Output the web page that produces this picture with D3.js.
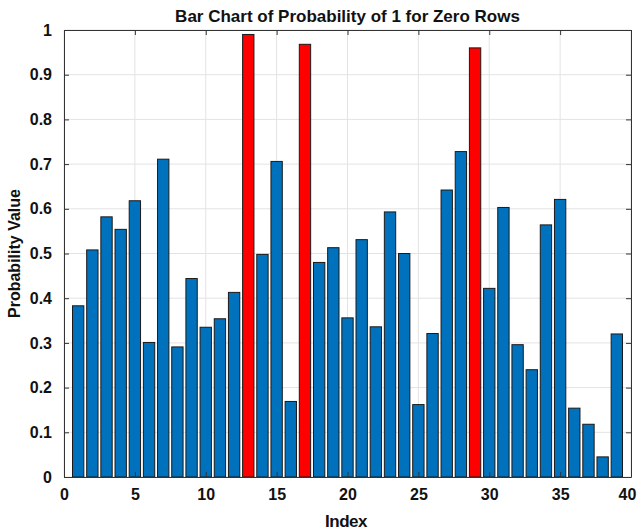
<html>
<head>
<title>Bar Chart of Probability</title>
<script src="https://d3js.org/d3.v7.min.js"></script>
<style>
  body { margin: 0; background: #fff; }
  text { font-family: "Liberation Sans", Arial, sans-serif; font-weight: bold; fill: #111; }
</style>
</head>
<body>
<svg id="chart" width="638" height="531"></svg>
<script>
// values
var indexes = d3.range(1, 40);
var probs = [0.383, 0.508, 0.582, 0.554, 0.618, 0.301, 0.711, 0.291, 0.444, 0.335,
             0.354, 0.413, 0.990, 0.498, 0.706, 0.169, 0.968, 0.480, 0.513, 0.356,
             0.531, 0.336, 0.593, 0.500, 0.162, 0.321, 0.642, 0.728, 0.960, 0.422,
             0.603, 0.296, 0.240, 0.564, 0.621, 0.154, 0.118, 0.045, 0.320];
var highlighted = [13, 17, 29];
var xTicks = [0, 5, 10, 15, 20, 25, 30, 35, 40];
var yTicks = [0, 0.1, 0.2, 0.3, 0.4, 0.5, 0.6, 0.7, 0.8, 0.9, 1];

var svg = d3.select("#chart");
var mLeft = 64, mRight = 631, mTop = 30, mBottom = 477;

var x = d3.scaleLinear().domain([0, 40]).range([mLeft, mRight]);
var y = d3.scaleLinear().domain([0, 1]).range([mBottom, mTop]);
var bw = x(0.8) - x(0);

// grid
svg.append("g").selectAll("line").data(xTicks).enter().append("line")
  .attr("x1", d => x(d)).attr("x2", d => x(d)).attr("y1", mTop).attr("y2", mBottom)
  .style("stroke", "#e3e3e3").style("stroke-width", 1);
svg.append("g").selectAll("line").data(yTicks).enter().append("line")
  .attr("x1", mLeft).attr("x2", mRight).attr("y1", d => y(d)).attr("y2", d => y(d))
  .style("stroke", "#e3e3e3").style("stroke-width", 1);

// bars
svg.append("g").selectAll("rect").data(indexes).enter().append("rect")
  .attr("x", d => x(d) - bw / 2)
  .attr("width", bw)
  .attr("y", (d, i) => y(probs[i]))
  .attr("height", (d, i) => y(0) - y(probs[i]))
  .attr("fill", d => highlighted.includes(d) ? "#ff0000" : "#0072bd")
  .attr("stroke", "#1a1a1a").attr("stroke-width", 1);

// axes, ticks pointing inward like matlab
svg.append("g").attr("transform", "translate(0," + mBottom + ")")
  .call(d3.axisBottom(x).tickValues(xTicks).tickSizeInner(-5).tickSizeOuter(0).tickPadding(12))
  .call(g => g.selectAll("text").style("font-size", "16px")
    .attr("dx", d => d == 40 ? -4 : 0));
svg.append("g").attr("transform", "translate(0," + mTop + ")")
  .call(d3.axisTop(x).tickValues(xTicks).tickSizeInner(-5).tickSizeOuter(0).tickFormat(""));
svg.append("g").attr("transform", "translate(" + mLeft + ",0)")
  .call(d3.axisLeft(y).tickValues(yTicks).tickSizeInner(-5).tickSizeOuter(0).tickPadding(12).tickFormat(d3.format("~g")))
  .call(g => g.selectAll("text").style("font-size", "16px"));
svg.append("g").attr("transform", "translate(" + mRight + ",0)")
  .call(d3.axisRight(y).tickValues(yTicks).tickSizeInner(-5).tickSizeOuter(0).tickFormat(""));
svg.selectAll(".domain").style("stroke", "#333");
svg.selectAll(".tick line").style("stroke", "#333");

// titles
svg.append("text").attr("x", (mLeft + mRight) / 2).attr("y", 22)
  .style("text-anchor", "middle").style("font-size", "17px")
  .text("Bar Chart of Probability of 1 for Zero Rows");
svg.append("text").attr("x", 346).attr("y", 527)
  .style("text-anchor", "middle").style("font-size", "17px").style("letter-spacing", "-0.5px")
  .text("Index");
svg.append("text").attr("transform", "translate(20," + (mTop + mBottom) / 2 + ") rotate(-90)")
  .style("text-anchor", "middle").style("font-size", "16px")
  .text("Probability Value");
</script>
</body>
</html>
